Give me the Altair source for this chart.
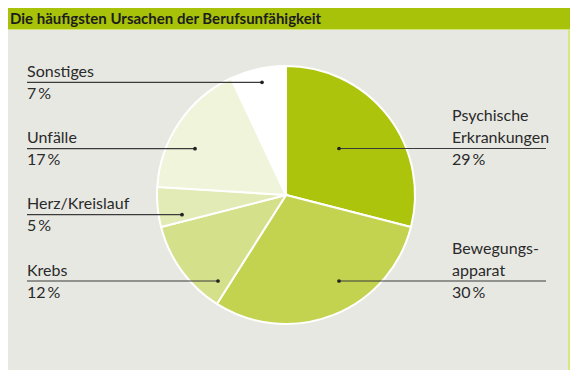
import altair as alt
import pandas as pd

# ---- data ----
categories = ["Psychische Erkrankungen", "Bewegungsapparat", "Krebs", "Herz/Kreislauf", "Unfälle", "Sonstiges"]
label_lines = [["Psychische", "Erkrankungen"], ["Bewegungs-", "apparat"], ["Krebs"], ["Herz/Kreislauf"], ["Unfälle"], ["Sonstiges"]]
values = [29, 30, 12, 5, 17, 7]
colors = ["#acc40c", "#c3d34f", "#d5e08b", "#e2eab6", "#eff4db", "#ffffff"]
title = "Die häufigsten Ursachen der Berufsunfähigkeit"

# ---- layout (page pixels; chart origin sits at page (8, 8)) ----
OFF = 8
W, H = 562, 362
cx, cy, R = 286, 195, 129
sides = ["right", "right", "left", "left", "left", "left"]
line_y = [148.5, 281, 281, 214.7, 148.7, 82.3]
dot_x = [339, 339, 218, 182, 195, 262]
left_x, right_text_x, right_end = 27, 452, 546

pie_df = pd.DataFrame({"cat": categories, "value": values, "idx": range(len(values))})

rules, dots, texts = [], [], []
for i, cat in enumerate(categories):
    y = line_y[i] - OFF
    if sides[i] == "left":
        x1, x2, tx = left_x, dot_x[i], left_x
    else:
        x1, x2, tx = dot_x[i], right_end, right_text_x
    rules.append({"x": x1 - OFF, "x2": x2 - OFF, "y": y})
    dots.append({"x": dot_x[i] - OFF, "y": y})
    n = len(label_lines[i])
    for j, t in enumerate(label_lines[i]):
        texts.append({"x": tx - OFF, "y": y - 5.5 - 22 * (n - 1 - j), "t": t})
    texts.append({"x": tx - OFF, "y": y + 16.5, "t": f"{values[i]}\u2009%"})

rules_df, dots_df, texts_df = pd.DataFrame(rules), pd.DataFrame(dots), pd.DataFrame(texts)
one = pd.DataFrame({"a": [0]})

X = lambda f: alt.X(f, type="quantitative", scale=None, axis=None)
Y = lambda f: alt.Y(f, type="quantitative", scale=None, axis=None)

bar = alt.Chart(one).mark_rect(color="#a8c20a").encode(
    x=alt.value(0), x2=alt.value(W), y=alt.value(0), y2=alt.value(21))
bar_line = alt.Chart(one).mark_rect(color="#d4e27a").encode(
    x=alt.value(0), x2=alt.value(W), y=alt.value(21), y2=alt.value(22))
right_border = alt.Chart(one).mark_rect(color="#d8e87e").encode(
    x=alt.value(W - 2), x2=alt.value(W), y=alt.value(22), y2=alt.value(H))
title_t = alt.Chart(one).mark_text(
    text=title, font="Lato", fontWeight="bold", fontSize=15, color="#1c1c1c",
    align="left", baseline="alphabetic").encode(x=alt.value(2), y=alt.value(16))

pie = alt.Chart(pie_df).mark_arc(outerRadius=R, stroke="white", strokeWidth=2).encode(
    theta=alt.Theta("value:Q", stack=True),
    order=alt.Order("idx:Q"),
    color=alt.Color("cat:N", scale=alt.Scale(domain=categories, range=colors), legend=None),
    x=alt.value(cx - OFF), y=alt.value(cy - OFF))

rule_l = alt.Chart(rules_df).mark_rule(color="#3a3a3a", strokeWidth=1.2).encode(
    x=X("x"), x2="x2", y=Y("y"))
dot_l = alt.Chart(dots_df).mark_circle(color="#222222", size=14, opacity=1).encode(
    x=X("x"), y=Y("y"))
text_l = alt.Chart(texts_df).mark_text(
    font="Lato", fontSize=16, color="#2a2a2a", align="left", baseline="alphabetic").encode(
    x=X("x"), y=Y("y"), text="t:N")

chart = alt.layer(bar, bar_line, right_border, title_t, pie, rule_l, dot_l, text_l).properties(
    width=W, height=H, padding=0, autosize=alt.AutoSizeParams(type="none"),
    background="#e8e8e3"
).configure_view(stroke=None, fill="#e8e8e3")

chart.save("out.html", embed_options={"renderer": "svg", "actions": False})
